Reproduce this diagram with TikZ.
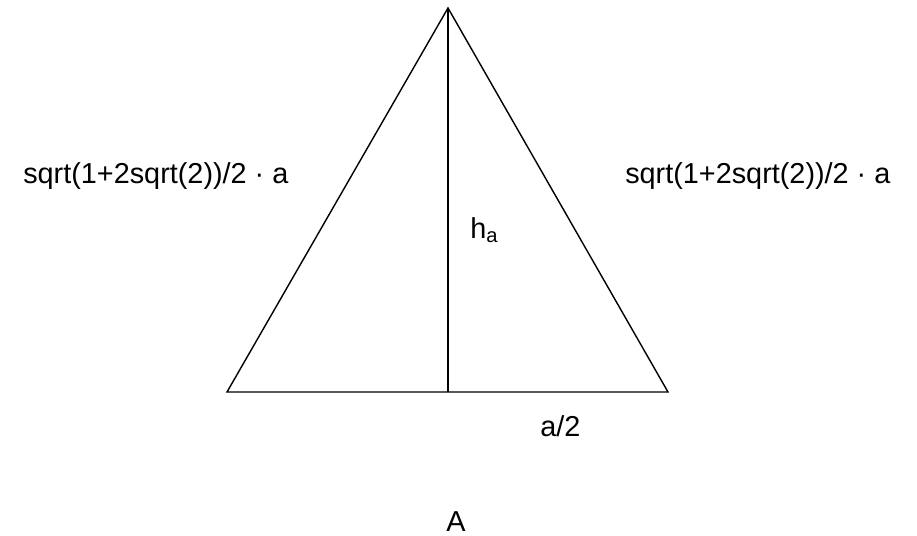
\documentclass[tikz,border=0pt]{standalone}
\usepackage{fontspec}
\setmainfont{Liberation Sans}
\usepackage{tikz}
\usetikzlibrary{positioning}

\tikzset{
    edge/.style={line width=1pt, line join=miter},
    lbl/.style={inner sep=0pt, anchor=base west, font=\fontsize{20.5}{24}\selectfont},
}

\begin{document}
\begin{tikzpicture}[x=0.025cm, y=-0.025cm]
    \useasboundingbox (0,0) rectangle (917,535);
    \coordinate (top) at (448,8);
    \coordinate (bl) at (227,392);
    \coordinate (br) at (668,392);
    \coordinate (foot) at (448,392);
    \draw[edge] (top) -- (bl) -- (br) -- cycle;
    \draw[edge] (top) -- (foot);
    \node[lbl] (sl) at (23,183) {sqrt(1+2sqrt(2))/2 · a};
    \node[lbl] (sr) at (625,183) {sqrt(1+2sqrt(2))/2 · a};
    \node[lbl] (ha) at (470,238) {h\textsubscript{a}};
    \node[lbl] (half) at (540,436) {a/2};
    \node[lbl, anchor=base] (lA) at (456,531) {A};
\end{tikzpicture}
\end{document}
